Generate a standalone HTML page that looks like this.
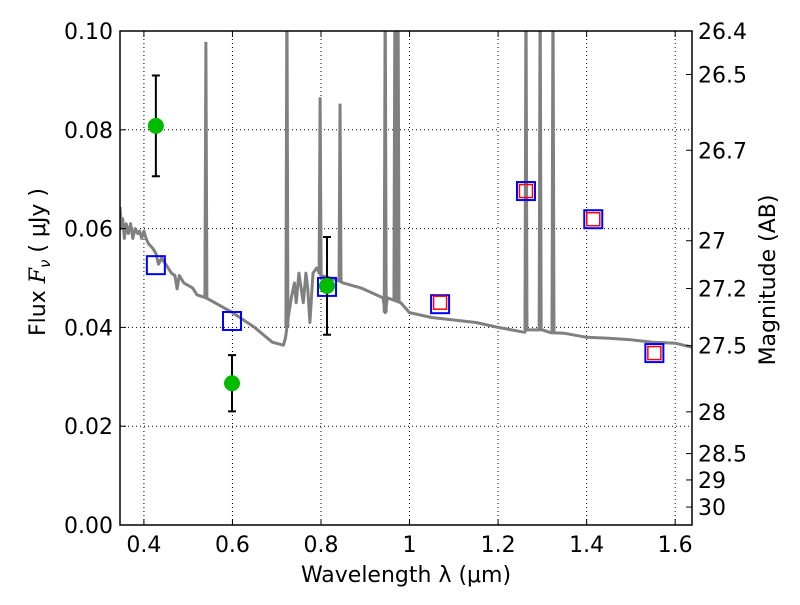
<!DOCTYPE html>
<html><head><meta charset="utf-8"><style>
body{margin:0;background:#fff;}
svg text{font-family:"DejaVu Sans","Liberation Sans",sans-serif;fill:#000;}
</style></head><body>
<svg id="c" width="800" height="600" xmlns="http://www.w3.org/2000/svg"></svg>
<script>
const xTicks=[0.4,0.6,0.8,1.0,1.2,1.4,1.6];
const xTickLabels=["0.4","0.6","0.8","1","1.2","1.4","1.6"];
const yTicks=[0,0.02,0.04,0.06,0.08,0.10];
const yTickLabels=["0.00","0.02","0.04","0.06","0.08","0.10"];
const magTicks=[26.4,26.5,26.7,27,27.2,27.5,28,28.5,29,30];
const magLabels=["26.4","26.5","26.7","27","27.2","27.5","28","28.5","29","30"];
const specWave=[0.346,0.349,0.352,0.356,0.36,0.365,0.37,0.375,0.38,0.386,0.39,0.395,0.4,0.405,0.41,0.415,0.42,0.427,0.433,0.44,0.45,0.462,0.47,0.475,0.48,0.49,0.5,0.51,0.52,0.54,0.55,0.6,0.65,0.69,0.715,0.72,0.726,0.733,0.74,0.744,0.75,0.755,0.76,0.766,0.77,0.775,0.782,0.79,0.8,0.82,0.84,0.85,0.89,0.94,0.945,0.95,0.98,1.0,1.05,1.1,1.15,1.2,1.26,1.263,1.3,1.32,1.35,1.4,1.45,1.5,1.55,1.6,1.638];
const specFlux=[0.0644,0.060,0.062,0.058,0.061,0.059,0.061,0.058,0.060,0.059,0.0595,0.058,0.0595,0.058,0.057,0.0565,0.056,0.055,0.0528,0.054,0.0527,0.051,0.0505,0.0478,0.0505,0.049,0.0485,0.048,0.0466,0.046,0.0455,0.043,0.040,0.037,0.0364,0.038,0.042,0.046,0.049,0.045,0.051,0.048,0.045,0.051,0.048,0.041,0.051,0.052,0.0505,0.050,0.0495,0.049,0.048,0.046,0.043,0.046,0.045,0.043,0.042,0.0415,0.041,0.040,0.039,0.0395,0.0395,0.0389,0.0388,0.038,0.0378,0.0375,0.037,0.0368,0.036];
const lineWave=[0.540,0.723,0.798,0.843,0.945,0.967,0.974,1.263,1.295,1.324];
const linePeak=[0.0978,0.11,0.0866,0.0853,0.11,0.11,0.11,0.11,0.11,0.11];
const obsWave=[0.427,0.599,0.8136];
const obsFlux=[0.0808,0.0287,0.0484];
const obsErr=[0.0102,0.0057,0.0099];
const modWave=[0.427,0.599,0.8136,1.069,1.263,1.415,1.553];
const modFlux=[0.0526,0.0413,0.0482,0.0447,0.0676,0.0619,0.0348];
const nirWave=[1.069,1.263,1.415,1.553];
const nirFlux=[0.0450,0.0676,0.0619,0.0348];

const L=120,R=692,T=31,B=525,x0=0.346,x1=1.638;
const X=v=>L+(v-x0)/(x1-x0)*(R-L);
const Y=v=>B-v/0.1*(B-T);
const svg=document.getElementById('c');const NS="http://www.w3.org/2000/svg";
function mk(tag,at,parent){const e=document.createElementNS(NS,tag);for(const k in at)e.setAttribute(k,at[k]);(parent||svg).appendChild(e);return e;}
function txt(s,at,name){const e=mk('text',at);e.textContent=s;return e;}
mk('defs',{}).innerHTML='<clipPath id="pc"><rect x="'+L+'" y="'+T+'" width="'+(R-L)+'" height="'+(B-T)+'"/></clipPath>';
const g=mk('g',{stroke:'#000','stroke-width':1,'stroke-dasharray':'1,3'});

xTicks.forEach(v=>mk('line',{x1:X(v),x2:X(v),y1:T,y2:B},g));
yTicks.forEach(v=>mk('line',{x1:L,x2:R,y1:Y(v),y2:Y(v)},g));
const pg=mk('g',{'clip-path':'url(#pc)'});
let d=specWave.map((w,i)=>(i?'L':'M')+X(w).toFixed(1)+','+Y(specFlux[i]).toFixed(1)).join('');
const sp=mk('path',{d:d,fill:'none',stroke:'#808080','stroke-width':3,'stroke-linejoin':'round'},pg);

function interp(w){for(let i=1;i<specWave.length;i++){if(w<=specWave[i]){const t=(w-specWave[i-1])/(specWave[i]-specWave[i-1]);return specFlux[i-1]+t*(specFlux[i]-specFlux[i-1]);}}return specFlux[specFlux.length-1];}
lineWave.forEach((w,i)=>{const b=interp(w);const el=mk('path',{d:'M'+(X(w)-1)+','+Y(b)+'L'+X(w)+','+Y(linePeak[i])+'L'+(X(w)+1)+','+Y(b),fill:'none',stroke:'#808080','stroke-width':3},pg);
});
modWave.forEach((w,i)=>{const el=mk('rect',{x:X(w)-9,y:Y(modFlux[i])-9,width:18,height:18,fill:'none',stroke:'#0000ff','stroke-width':2});
});
nirWave.forEach((w,i)=>{const el=mk('rect',{x:X(w)-6.5,y:Y(nirFlux[i])-6.5,width:13,height:13,fill:'none',stroke:'#ff0000','stroke-width':1.5});
});
obsWave.forEach((w,i)=>{const x=X(w),y1=Y(obsFlux[i]+obsErr[i]),y2=Y(obsFlux[i]-obsErr[i]);
const eb=mk('path',{d:'M'+x+','+y1+'V'+y2+'M'+(x-4)+','+y1+'H'+(x+4)+'M'+(x-4)+','+y2+'H'+(x+4),stroke:'#000','stroke-width':2,fill:'none'});

const c=mk('circle',{cx:x,cy:Y(obsFlux[i]),r:8,fill:'#00bb00'});
});
const fr=mk('rect',{x:L,y:T,width:R-L,height:B-T,fill:'none',stroke:'#000','stroke-width':1.5});

xTicks.forEach((v,i)=>{mk('line',{x1:X(v),x2:X(v),y1:B,y2:B-6,stroke:'#000'});mk('line',{x1:X(v),x2:X(v),y1:T,y2:T+6,stroke:'#000'});
txt(xTickLabels[i],{x:X(v),y:B+27,'font-size':22,'text-anchor':'middle'},'x-tick-label');});
yTicks.forEach((v,i)=>{mk('line',{x1:L,x2:L+6,y1:Y(v),y2:Y(v),stroke:'#000'});
txt(yTickLabels[i],{x:L-7,y:Y(v)+8,'font-size':22,'text-anchor':'end'},'y-tick-label');});
magTicks.forEach((m,i)=>{const y=Y(Math.pow(10,(23.9-m)/2.5));mk('line',{x1:R,x2:R-6,y1:y,y2:y,stroke:'#000'});
txt(magLabels[i],{x:R+6,y:y+8,'font-size':22},'magnitude-tick-label');});
txt('Wavelength  λ (μm)',{x:406,y:582,'font-size':22,'text-anchor':'middle'},'x-axis-title');
const yl=mk('text',{x:0,y:0,'font-size':22,'text-anchor':'middle',transform:'translate(45,262) rotate(-90)'});

yl.innerHTML='Flux  <tspan font-style="italic" font-family="DejaVu Serif, serif">F</tspan><tspan font-style="italic" font-size="15" dy="5">ν</tspan><tspan dy="-5">  (  μJy )</tspan>';
txt('Magnitude (AB)',{x:0,y:0,'font-size':22,'text-anchor':'middle',transform:'translate(775,280) rotate(-90)'},'right-axis-title');
</script>
</body></html>
